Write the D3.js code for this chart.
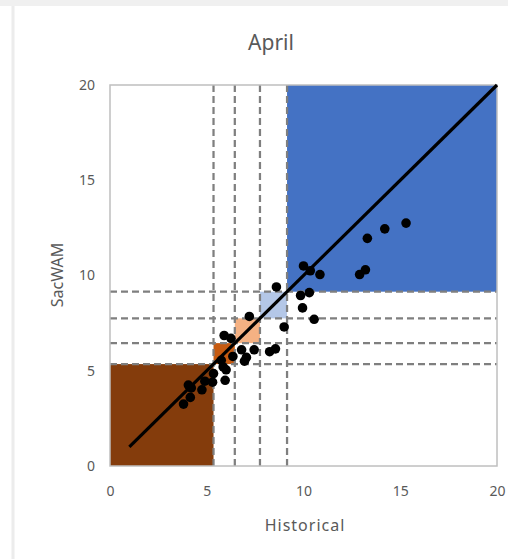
<!DOCTYPE html>
<meta charset="utf-8">
<style>
body { margin: 0; background: #fff; }
text { font-family: "Noto Sans", "Open Sans", sans-serif; fill: #595959; }
.tick text { font-size: 14px; }
</style>
<svg width="508" height="559"></svg>
<script src="https://d3js.org/d3.v7.min.js"></script>
<script>

// values
var thresholds = [5.35, 6.45, 7.75, 9.15];
var bandColors = ["#843c0c", "#c55a11", "#f4b183", "#b4c7e7", "#4472c4"];
var ticks = [0, 5, 10, 15, 20];

var historical = [15.3, 14.2, 13.3, 13.2, 12.9, 10.0, 10.35, 10.85, 10.3, 9.85, 9.95, 10.55,
  9.0, 8.6, 7.2, 5.9, 6.25, 7.45, 8.25, 8.55, 7.05, 6.8, 6.95, 5.75, 5.85, 5.95,
  5.35, 4.9, 4.75, 4.2, 4.05, 4.15, 3.8, 6.35, 6.0, 5.3];
var sacwam = [12.75, 12.45, 11.95, 10.3, 10.05, 10.5, 10.25, 10.05, 9.1, 8.95, 8.3, 7.7,
  7.3, 9.4, 7.85, 6.85, 6.7, 6.1, 6.0, 6.15, 5.7, 6.1, 5.5, 5.55, 5.2, 4.5,
  4.85, 4.45, 4.0, 4.1, 4.25, 3.6, 3.25, 5.75, 5.05, 4.4];
var oneToOne = [1, 20];

var svg = d3.select("svg");

// chart frame
svg.append("rect").attr("x", 0).attr("y", 0).attr("width", 508).attr("height", 6).attr("fill", "#f0f0f0");
svg.append("line").attr("x1", 13).attr("x2", 13).attr("y1", 6).attr("y2", 559)
    .attr("stroke", "#ececec").attr("stroke-width", 3);

var x = d3.scaleLinear().domain([0, 20]).range([110, 497]);
var y = d3.scaleLinear().domain([0, 20]).range([466, 85]);

// coloured squares along the diagonal
var edges = [0].concat(thresholds).concat([20]);
var bands = d3.range(bandColors.length).map(function(i) {
  return { lo: edges[i], hi: edges[i + 1], color: bandColors[i] };
});

svg.append("g").selectAll("rect")
  .data(bands)
  .enter().append("rect")
    .attr("x", function(d) { return x(d.lo); })
    .attr("y", function(d) { return y(d.hi); })
    .attr("width", function(d) { return x(d.hi) - x(d.lo); })
    .attr("height", function(d) { return y(d.lo) - y(d.hi); })
    .attr("fill", function(d) { return d.color; });

// threshold lines
var dash = svg.append("g")
    .attr("stroke", "#7f7f7f")
    .attr("stroke-width", 2.25)
    .attr("stroke-dasharray", "7,4");

dash.selectAll(".v").data(thresholds).enter().append("line")
    .attr("x1", function(d) { return x(d); })
    .attr("x2", function(d) { return x(d); })
    .attr("y1", y(0)).attr("y2", y(20));

dash.selectAll(".h").data(thresholds).enter().append("line")
    .attr("y1", function(d) { return y(d); })
    .attr("y2", function(d) { return y(d); })
    .attr("x1", x(0)).attr("x2", x(20));

// plot border
svg.append("rect")
    .attr("x", x(0)).attr("y", y(20))
    .attr("width", x(20) - x(0)).attr("height", y(0) - y(20))
    .attr("fill", "none").attr("stroke", "#bfbfbf").attr("stroke-width", 1.5);

// axes
svg.append("g")
    .attr("transform", "translate(0," + y(0) + ")")
    .call(d3.axisBottom(x).tickValues(ticks).tickSize(0).tickPadding(20));
svg.append("g")
    .attr("transform", "translate(" + x(0) + ",0)")
    .call(d3.axisLeft(y).tickValues(ticks).tickSize(0).tickPadding(15));
svg.selectAll(".domain").remove();

// 1:1 line
svg.append("line")
    .attr("x1", x(oneToOne[0])).attr("y1", y(oneToOne[0]))
    .attr("x2", x(oneToOne[1])).attr("y2", y(oneToOne[1]))
    .attr("stroke", "#000").attr("stroke-width", 3.2);

// points
svg.append("g").selectAll("circle")
  .data(historical)
  .enter().append("circle")
    .attr("cx", function(d) { return x(d); })
    .attr("cy", function(d, i) { return y(sacwam[i]); })
    .attr("r", 4.8)
    .attr("fill", "#000");

// titles
svg.append("text")
    .attr("x", 271).attr("y", 50)
    .attr("text-anchor", "middle")
    .style("font-size", "21px")
    .text("April");

svg.append("text")
    .attr("x", 305).attr("y", 531)
    .attr("text-anchor", "middle")
    .style("font-size", "16px")
    .style("letter-spacing", "1px")
    .text("Historical");

svg.append("text")
    .attr("transform", "translate(63,275) rotate(-90)")
    .attr("text-anchor", "middle")
    .style("font-size", "16px")
    .text("SacWAM");

</script>
